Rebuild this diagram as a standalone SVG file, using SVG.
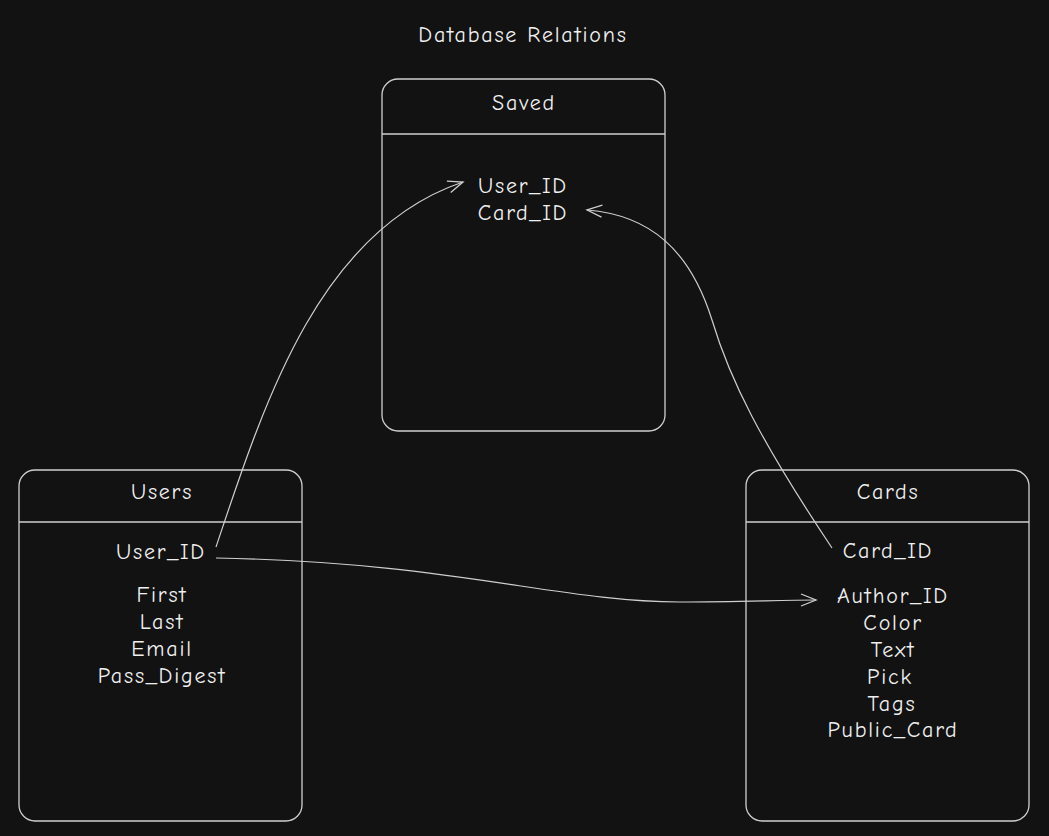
<svg xmlns="http://www.w3.org/2000/svg" width="1049" height="836" viewBox="0 0 1049 836">
<style>
.bg{fill:#121212}
.box{fill:none;stroke:#cfcfcf;stroke-width:1.3}
.t{font-family:"Comic Neue","Liberation Sans","DejaVu Sans",sans-serif;font-size:22px;letter-spacing:1.8px;fill:#f0f0f0;text-anchor:middle}
.c{fill:none;stroke:#cfcfcf;stroke-width:1.2}
</style>
<defs>
<marker id="ah" viewBox="0 0 20 20" refX="18" refY="10" markerWidth="20" markerHeight="20" markerUnits="userSpaceOnUse" orient="auto">
<polyline points="3,4 18,10 3,16" fill="none" stroke="#cfcfcf" stroke-width="1.3"/>
</marker>
</defs>
<rect class="bg" x="0" y="0" width="1049" height="836"/>
<text class="t" x="523" y="42">Database Relations</text>
<g id="saved">
<rect class="box" x="382" y="79" width="283" height="352" rx="16"/>
<line class="box" x1="382" y1="134" x2="665" y2="134"/>
<text class="t" x="524" y="110">Saved</text>
<text class="t" x="523" y="193">User_ID</text>
<text class="t" x="523" y="220">Card_ID</text>
</g>
<g id="users">
<rect class="box" x="19" y="470" width="283" height="351" rx="16"/>
<line class="box" x1="19" y1="522" x2="302" y2="522"/>
<text class="t" x="162" y="499">Users</text>
<text class="t" x="161" y="559">User_ID</text>
<text class="t" x="162" y="602">First</text>
<text class="t" x="162" y="629">Last</text>
<text class="t" x="162" y="656">Email</text>
<text class="t" x="162" y="683">Pass_Digest</text>
</g>
<g id="cards">
<rect class="box" x="746" y="470" width="283" height="351" rx="16"/>
<line class="box" x1="746" y1="522" x2="1029" y2="522"/>
<text class="t" x="888" y="499">Cards</text>
<text class="t" x="888" y="558">Card_ID</text>
<text class="t" x="893" y="603">Author_ID</text>
<text class="t" x="893" y="630">Color</text>
<text class="t" x="893" y="657">Text</text>
<text class="t" x="890" y="684">Pick</text>
<text class="t" x="892" y="711">Tags</text>
<text class="t" x="893" y="737">Public_Card</text>
</g>
<g id="connectors">
<path class="c" d="M216,547 C265,400 320,230 463,182" marker-end="url(#ah)"/>
<path class="c" d="M832,548 C760,440 730,380 712,320 C690,250 650,215 587,210" marker-end="url(#ah)"/>
<path class="c" d="M216,558 C450,562 560,602 680,602 C740,602 780,600 816,600" marker-end="url(#ah)"/>
</g>
</svg>
